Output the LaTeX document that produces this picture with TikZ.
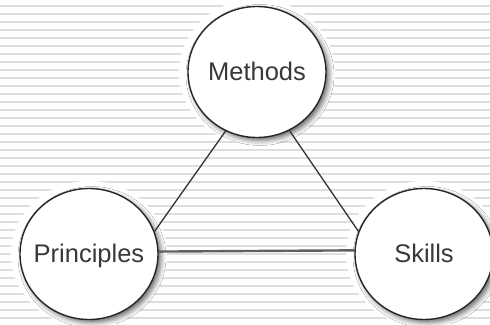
\documentclass[tikz,border=0pt]{standalone}
\usepackage{fontspec}
\setmainfont{Liberation Sans}
\usetikzlibrary{shapes.geometric,shadows.blur}
% label that does not widen the ellipse around it
\newcommand\bubblelabel[1]{\makebox[0pt]{#1}}
\begin{document}
\begin{tikzpicture}[x=1pt,y=-1pt,
  bubble/.style={ellipse, draw=black!85, line width=1.4pt, fill=white,
    minimum width=138pt, minimum height=131pt, inner sep=0pt,
    text=black!78, font=\fontsize{25.5}{30}\selectfont,
    text height=17pt, text depth=0pt,
    blur shadow={shadow xshift=3pt, shadow yshift=-3pt,
      shadow blur radius=5pt, shadow opacity=60}},
  halo/.style={fill=white},
  link/.style={draw=black!80, line width=1.3pt},
  baseline link/.style={draw=black!62, line width=2.4pt},
  stripe/.style={fill=black!13}]
\useasboundingbox (0,0) rectangle (490,324);
\clip (0,0) rectangle (490,324);
% ruled paper background
\fill[white] (0,0) rectangle (490,324);
\foreach \k in {0,...,40}
  \fill[stripe] (0,{4.6+8*\k}) rectangle (490,{6.9+8*\k});
% white clearings behind the bubbles
\fill[halo] (257,72) ellipse [x radius=78, y radius=73];
\fill[halo] (89,254) ellipse [x radius=78, y radius=73];
\fill[halo] (424,254) ellipse [x radius=78, y radius=73];
% the three bubbles
\node[bubble] (M) at (257,72) {\bubblelabel{Methods}};
\node[bubble] (P) at (89,254) {\bubblelabel{Principles}};
\node[bubble] (S) at (424,254) {\bubblelabel{Skills}};
% links between them
\draw[link] (M.242) -- (P.19);
\draw[link] (M.299) -- (S.161);
\draw[baseline link] (P.2.5) -- (S.177.5);
\end{tikzpicture}
\end{document}
